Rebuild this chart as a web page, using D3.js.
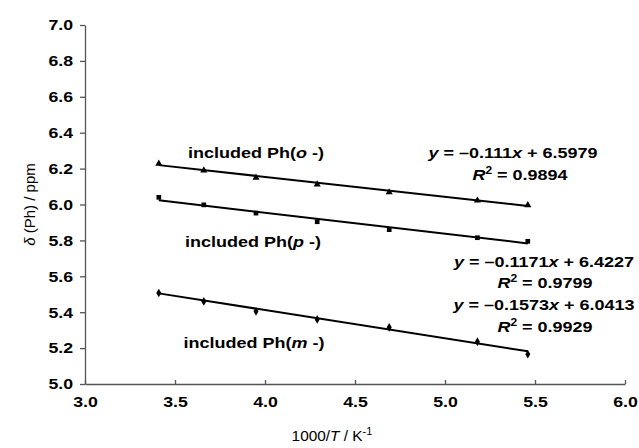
<!DOCTYPE html>
<html>
<head>
<meta charset="utf-8">
<script src="https://cdn.jsdelivr.net/npm/d3@7"></script>
<style>
  body { margin: 0; background: #fff; }
  text { font-family: "Liberation Sans", Arial, Helvetica, sans-serif; }
  .tick text { font-size: 15px; font-weight: bold; fill: #000; }
  .lbl { font-size: 15px; font-weight: bold; }
</style>
</head>
<body>
<div id="chart"></div>
<script>
// data
var invT = [3.41, 3.66, 3.95, 4.29, 4.69, 5.18, 5.46];
var orthoVals = [6.228, 6.19, 6.15, 6.112, 6.068, 6.022, 5.996];
var paraVals = [6.04, 5.998, 5.952, 5.904, 5.86, 5.815, 5.795];
var metaVals = [5.507, 5.46, 5.405, 5.36, 5.316, 5.236, 5.166];
var slopes = [-0.111, -0.1171, -0.1573];
var intercepts = [6.5979, 6.4227, 6.0413];
var r2 = ["0.9894", "0.9799", "0.9929"];
var names = ["o", "p", "m"];
var xTicks = [3.0, 3.5, 4.0, 4.5, 5.0, 5.5, 6.0];
var yTicks = [5.0, 5.2, 5.4, 5.6, 5.8, 6.0, 6.2, 6.4, 6.6, 6.8, 7.0];

var width = 639, height = 448;
var stretch = 1.18; // the reference text is drawn a bit wide

var svg = d3.select("#chart").append("svg")
    .attr("width", width)
    .attr("height", height);

var x = d3.scaleLinear().domain([3, 6]).range([85, 625]);
var y = d3.scaleLinear().domain([5, 7]).range([384, 25]);

// axes
var xAxis = svg.append("g")
    .attr("transform", "translate(0," + y(5) + ")")
    .call(d3.axisBottom(x).tickValues(xTicks).tickFormat(d3.format(".1f"))
      .tickSizeInner(-4).tickSizeOuter(0).tickPadding(10));
xAxis.selectAll(".tick text").attr("dy", "0.9em")
    .attr("transform", "scale(" + stretch + ",1)");

var yAxis = svg.append("g")
    .attr("transform", "translate(" + x(3) + ",0)")
    .call(d3.axisLeft(y).tickValues(yTicks).tickFormat(d3.format(".1f"))
      .tickSizeInner(5).tickSizeOuter(0).tickPadding(7));
yAxis.selectAll(".tick text")
    .attr("x", -12 / stretch)
    .attr("transform", "scale(" + stretch + ",1)");

svg.selectAll(".domain, .tick line").attr("stroke", "#555").attr("stroke-width", 1.3);

// series
var series = [orthoVals, paraVals, metaVals];
var symbols = [d3.symbolTriangle, d3.symbolSquare, d3.symbolDiamond];

series.forEach(function(vals, i) {
  // trendline from the printed equation
  var ends = [invT[0], invT[invT.length - 1]];
  svg.append("line")
      .attr("x1", x(ends[0])).attr("y1", y(slopes[i] * ends[0] + intercepts[i]))
      .attr("x2", x(ends[1])).attr("y2", y(slopes[i] * ends[1] + intercepts[i]))
      .attr("stroke", "#000").attr("stroke-width", 2);

  svg.selectAll(".pt" + i)
      .data(invT.map(function(t, j){ return [t, vals[j]]; }))
    .enter().append("path")
      .attr("class", "pt" + i)
      .attr("d", d3.symbol().type(symbols[i]).size(22))
      .attr("transform", function(d){ return "translate(" + x(d[0]) + "," + y(d[1]) + ")"; })
      .attr("fill", "#000");
});

// stretched text helper, anchored at middle
function wideText(cx, cy, size, s) {
  return svg.append("text").attr("class", "lbl")
      .attr("font-size", size + "px")
      .attr("text-anchor", "middle")
      .attr("transform", "translate(" + cx + "," + cy + ") scale(" + s + ",1)");
}

// labels
var labelPos = [[256, 158], [253, 247], [254, 348]];
labelPos.forEach(function(p, i) {
  var t = wideText(p[0], p[1], 16, 1.2);
  t.append("tspan").text("included Ph(");
  t.append("tspan").attr("font-style", "italic").text(names[i]);
  t.append("tspan").text(" -)");
});

var eqPos = [[513, 158, 520, 180], [544, 267, 545, 288], [544, 310, 545, 332]];
eqPos.forEach(function(p, i) {
  var t = wideText(p[0], p[1], 15, 1.2);
  t.append("tspan").attr("font-style", "italic").text("y");
  t.append("tspan").text(" = \u2013" + (-slopes[i]));
  t.append("tspan").attr("font-style", "italic").text("x");
  t.append("tspan").text(" + " + intercepts[i].toFixed(4));

  var r = wideText(p[2], p[3], 15, 1.2);
  r.append("tspan").attr("font-style", "italic").text("R");
  r.append("tspan").attr("font-size", "10px").attr("dy", "-6").text("2");
  r.append("tspan").attr("dy", "6").text(" = " + r2[i]);
});

// axis titles
var yt = svg.append("text")
    .attr("transform", "translate(35," + y(6) + ") rotate(-90)")
    .attr("text-anchor", "middle")
    .attr("font-size", "15px");
yt.append("tspan").attr("font-style", "italic").text("\u03b4");
yt.append("tspan").text(" (Ph) / ppm");

var xt = svg.append("text")
    .attr("transform", "translate(332,441) scale(1.1,1)")
    .attr("text-anchor", "middle")
    .attr("font-size", "14px");
xt.append("tspan").text("1000/");
xt.append("tspan").attr("font-style", "italic").text("T");
xt.append("tspan").text(" / K");
xt.append("tspan").attr("font-size", "10px").attr("dy", "-6").text("-1");
</script>
</body>
</html>
